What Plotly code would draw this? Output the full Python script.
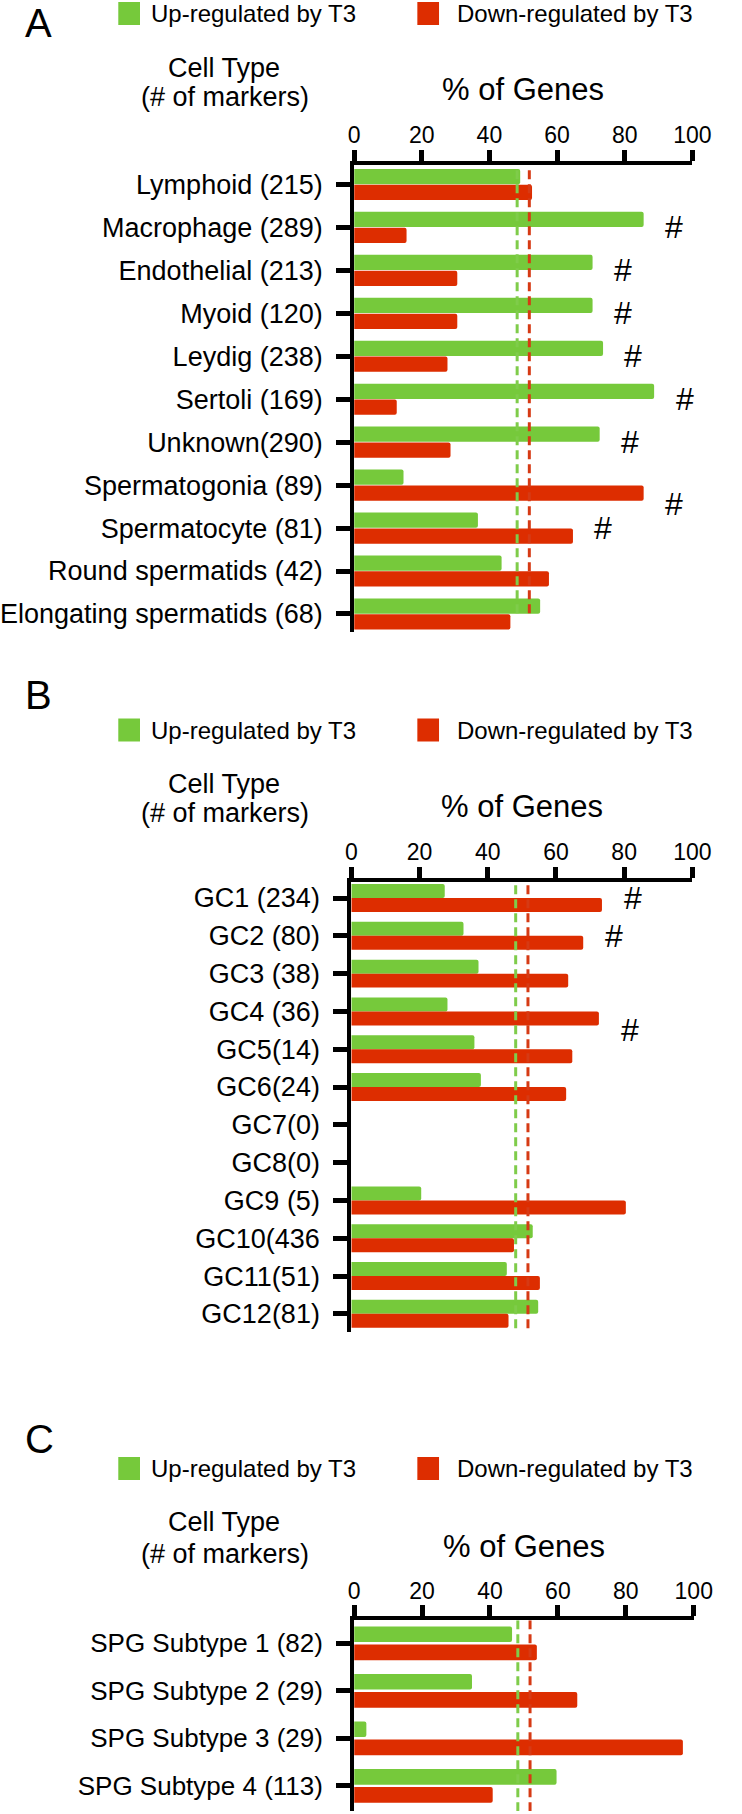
import plotly.graph_objects as go

W, H = 742, 1814
FONT = "Liberation Sans, Arial, Helvetica, sans-serif"
GREEN = "#76C93B"
RED = "#DD2D00"
GREEN_LINE = "#7FCC4A"
RED_LINE = "#D63A14"

# ---------------- data ----------------
a_types = ["Lymphoid (215)", "Macrophage (289)", "Endothelial (213)", "Myoid (120)",
           "Leydig (238)", "Sertoli (169)", "Unknown(290)", "Spermatogonia (89)",
           "Spermatocyte (81)", "Round spermatids (42)", "Elongating spermatids (68)"]
a_up = [49.1, 85.6, 70.5, 70.5, 73.6, 88.7, 72.6, 14.6, 36.6, 43.6, 55.0]
a_down = [52.6, 15.5, 30.5, 30.5, 27.6, 12.6, 28.5, 85.6, 64.7, 57.6, 46.2]
a_sig = [False, True, True, True, True, True, True, True, True, False, False]

b_types = ["GC1 (234)", "GC2 (80)", "GC3 (38)", "GC4 (36)", "GC5(14)", "GC6(24)",
           "GC7(0)", "GC8(0)", "GC9 (5)", "GC10(436", "GC11(51)", "GC12(81)"]
b_up = [27.4, 32.9, 37.3, 28.2, 36.1, 38.0, 0, 0, 20.5, 53.2, 45.6, 54.8]
b_down = [73.5, 68.0, 63.6, 72.6, 64.8, 63.0, 0, 0, 80.5, 47.7, 55.3, 46.1]
b_sig = [True, True, False, True, False, False, False, False, False, False, False, False]

c_types = ["SPG Subtype 1 (82)", "SPG Subtype 2 (29)", "SPG Subtype 3 (29)", "SPG Subtype 4 (113)"]
c_up = [46.5, 34.7, 3.6, 59.6]
c_down = [53.8, 65.7, 96.8, 40.8]
c_sig = [False, False, True, False]

up_ref = 48.2
down_ref = 51.8

x_ticks = [0, 20, 40, 60, 80, 100]
legend_up = "Up-regulated by T3"
legend_down = "Down-regulated by T3"
title_x = "% of Genes"
title_y1 = "Cell Type"
title_y2 = "(# of markers)"

# ---------------- layout helpers (pixel -> paper) ----------------
def PX(p):
    return p / W


def PY(p):
    return 1 - p / H


panels = [
    dict(letter="A", types=a_types, up=a_up, down=a_down, sig=a_sig,
         sig_dy=[0, 0, 0, 0, 0, 0, 0, 0.45, 0, 0, 0],
         xl=351, xr=709.5, yt=164.5, yb=632, rng=[10.42, -0.465],
         w=0.355, gap=0.015, line_y=(-0.33, 10.05),
         letter_y=23, legend_y=13.5, ct_y=68, mk_y=97, pct_y=90, fs=27),
    dict(letter="B", types=b_types, up=b_up, down=b_down, sig=b_sig,
         sig_dy=[0, 0, 0, 0.5, 0, 0, 0, 0, 0, 0, 0, 0],
         xl=348, xr=709.5, yt=881.5, yb=1332, rng=[11.48, -0.437],
         w=0.37, gap=0.0, line_y=(-0.34, 11.48),
         letter_y=695, legend_y=730, ct_y=784, mk_y=813, pct_y=806, fs=27),
    dict(letter="C", types=c_types, up=c_up, down=c_down, sig=c_sig,
         sig_dy=[0, 0, 0, 0],
         xl=351, xr=711, yt=1620.3, yb=1811, rng=[3.53, -0.484],
         w=0.33, gap=0.05, line_y=(-0.484, 3.6),
         letter_y=1439, legend_y=1468.5, ct_y=1522, mk_y=1554, pct_y=1546, fs=26),
]

fig = go.Figure()
shapes = []
annotations = []
layout_axes = {}

for k, p in enumerate(panels):
    n = "" if k == 0 else str(k + 1)
    xa, ya = "x" + n, "y" + n
    w, g = p["w"], p["gap"]
    fig.add_trace(go.Bar(
        orientation="h", x=p["up"], y=p["types"], xaxis=xa, yaxis=ya,
        width=w, offset=-w - g / 2, marker=dict(color=GREEN, line=dict(width=0), cornerradius=2),
        name=legend_up, showlegend=False, hoverinfo="x+y"))
    fig.add_trace(go.Bar(
        orientation="h", x=p["down"], y=p["types"], xaxis=xa, yaxis=ya,
        width=w, offset=g / 2, marker=dict(color=RED, line=dict(width=0), cornerradius=2),
        name=legend_down, showlegend=False, hoverinfo="x+y"))

    layout_axes["xaxis" + n] = dict(
        domain=[PX(p["xl"]), PX(p["xr"])], range=[0, 100], side="top", anchor=ya,
        tickvals=x_ticks, ticktext=[str(t) for t in x_ticks],
        ticks="outside", ticklen=11, tickwidth=4.5, tickcolor="black",
        showline=True, linewidth=4, linecolor="black", showgrid=False, zeroline=False,
        tickfont=dict(family=FONT, size=23, color="black"), ticklabelstandoff=-3,
        fixedrange=True)
    layout_axes["yaxis" + n] = dict(
        domain=[PY(p["yb"]), PY(p["yt"])], type="category",
        categoryorder="array", categoryarray=p["types"], range=p["rng"], anchor=xa,
        ticks="outside", ticklen=14, tickwidth=4.5, tickcolor="black",
        showline=True, linewidth=4, linecolor="black", showgrid=False, zeroline=False,
        tickfont=dict(family=FONT, size=p["fs"], color="black"), ticklabelstandoff=8,
        fixedrange=True)

    # reference dashed lines
    for xv, col in ((up_ref, GREEN_LINE), (down_ref, RED_LINE)):
        shapes.append(dict(type="line", xref=xa, yref=ya, x0=xv, x1=xv,
                           y0=p["line_y"][0], y1=p["line_y"][1],
                           line=dict(color=col, width=3, dash="9px,5px"), layer="above"))

    # significance markers
    for i, s in enumerate(p["sig"]):
        if s:
            annotations.append(dict(
                xref=xa, yref=ya, x=max(p["up"][i], p["down"][i]) + 9, y=i + p["sig_dy"][i],
                text="#", showarrow=False, xanchor="center", yanchor="middle",
                font=dict(family=FONT, size=32, color="black")))

    # panel letter
    annotations.append(dict(xref="paper", yref="paper", x=0, y=PY(p["letter_y"]),
                            text=p["letter"], showarrow=False, xanchor="left", yanchor="middle",
                            font=dict(family=FONT, size=40, color="black")))
    # legend
    ly = p["legend_y"]
    for x0, x1, col, tx, txt in ((101, 124, GREEN, 134, legend_up),
                                 (418, 441, RED, 458, legend_down)):
        shapes.append(dict(type="rect", xref="paper", yref="paper",
                           x0=PX(x0), x1=PX(x1), y0=PY(ly - 11.5), y1=PY(ly + 11.5),
                           fillcolor=col, line=dict(width=0)))
        annotations.append(dict(xref="paper", yref="paper", x=PX(tx), y=PY(ly),
                                text=txt, showarrow=False, xanchor="left", yanchor="middle",
                                font=dict(family=FONT, size=24, color="black")))
    # y title
    annotations.append(dict(xref="paper", yref="paper", x=PX(213), y=PY(p["ct_y"]),
                            text=title_y1, showarrow=False, xanchor="center", yanchor="middle",
                            font=dict(family=FONT, size=27, color="black")))
    annotations.append(dict(xref="paper", yref="paper", x=PX(214), y=PY(p["mk_y"]),
                            text=title_y2, showarrow=False, xanchor="center", yanchor="middle",
                            font=dict(family=FONT, size=27, color="black")))
    # x title
    annotations.append(dict(xref="paper", yref="paper", x=PX((p["xl"] + p["xr"]) / 2), y=PY(p["pct_y"]),
                            text=title_x, showarrow=False, xanchor="center", yanchor="middle",
                            font=dict(family=FONT, size=31, color="black")))

fig.update_layout(
    width=W, height=H, margin=dict(l=0, r=0, t=0, b=0),
    paper_bgcolor="white", plot_bgcolor="white",
    barmode="overlay", showlegend=False,
    font=dict(family=FONT, color="black"),
    shapes=shapes, annotations=annotations,
    **layout_axes)

fig.write_html("out.html", config={"displayModeBar": False},
               post_script="document.body.style.margin='0';document.body.style.padding='0';"
                           "document.body.style.overflow='hidden';")
